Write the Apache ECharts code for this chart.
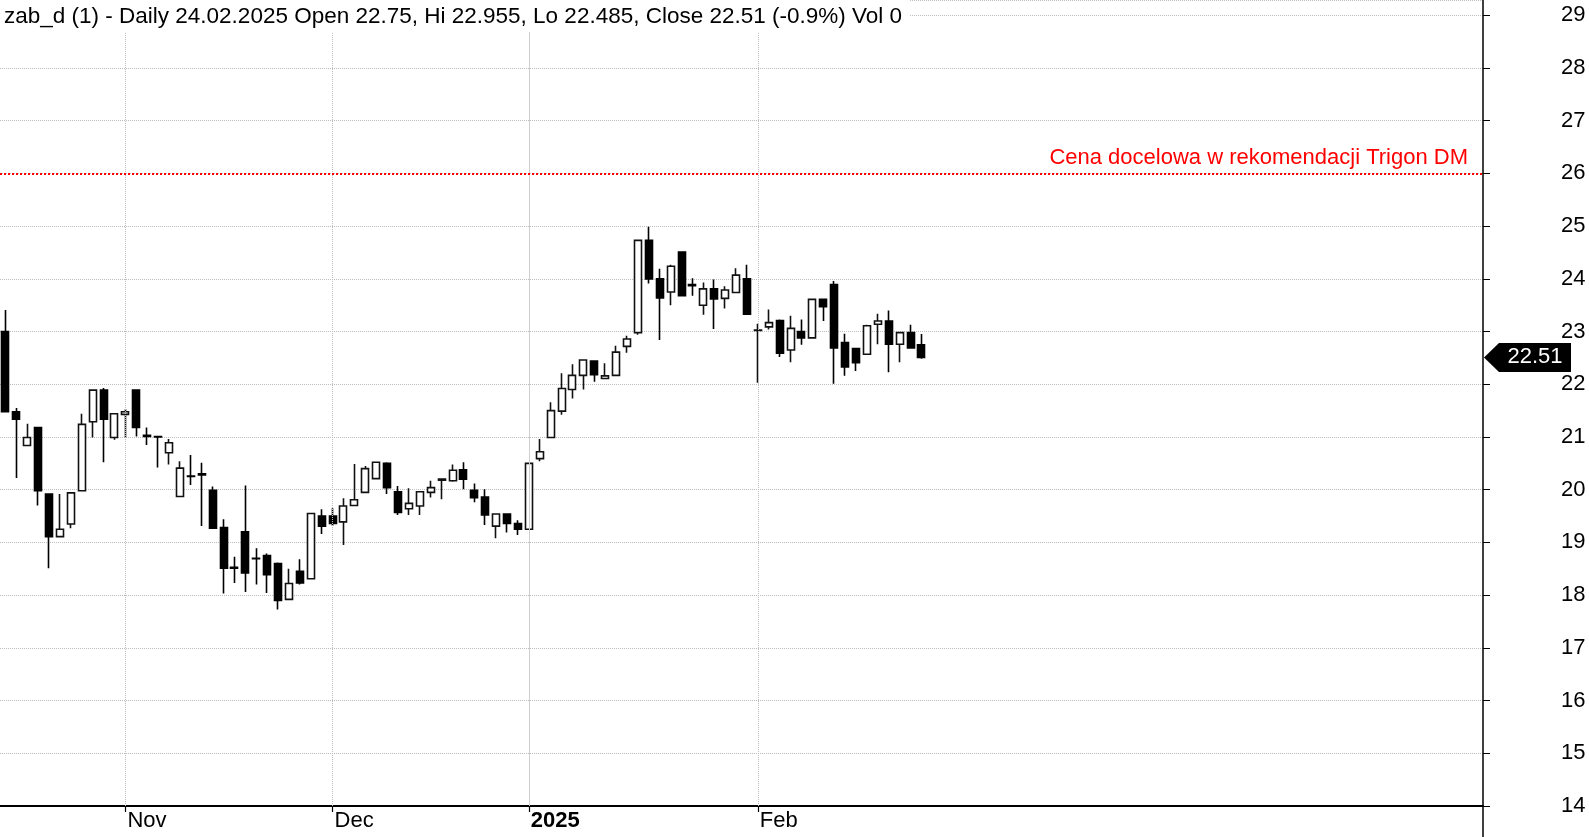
<!DOCTYPE html>
<html>
<head>
<meta charset="utf-8">
<script src="https://cdn.jsdelivr.net/npm/echarts@6/dist/echarts.min.js"></script>
<style>
html,body{margin:0;padding:0;background:#fff;}
#chart{width:1589px;height:837px;}
</style>
</head>
<body>
<div id="chart"></div>
<script>
// ---- Data ----
const dates = [
'2024-10-17','2024-10-18','2024-10-21','2024-10-22','2024-10-23','2024-10-24','2024-10-25','2024-10-28','2024-10-29','2024-10-30','2024-10-31',
'2024-11-04','2024-11-05','2024-11-06','2024-11-07','2024-11-08','2024-11-12','2024-11-13','2024-11-14','2024-11-15','2024-11-18','2024-11-19','2024-11-20','2024-11-21','2024-11-22','2024-11-25','2024-11-26','2024-11-27','2024-11-28','2024-11-29',
'2024-12-02','2024-12-03','2024-12-04','2024-12-05','2024-12-06','2024-12-09','2024-12-10','2024-12-11','2024-12-12','2024-12-13','2024-12-16','2024-12-17','2024-12-18','2024-12-19','2024-12-20','2024-12-23','2024-12-27','2024-12-30',
'2025-01-02','2025-01-03','2025-01-07','2025-01-08','2025-01-09','2025-01-10','2025-01-13','2025-01-14','2025-01-15','2025-01-16','2025-01-17','2025-01-20','2025-01-21','2025-01-22','2025-01-23','2025-01-24','2025-01-27','2025-01-28','2025-01-29','2025-01-30','2025-01-31',
'2025-02-03','2025-02-04','2025-02-05','2025-02-06','2025-02-07','2025-02-10','2025-02-11','2025-02-12','2025-02-13','2025-02-14','2025-02-17','2025-02-18','2025-02-19','2025-02-20','2025-02-21','2025-02-24'
];
const opens = [
23.00,21.48,20.84,21.18,19.92,19.11,19.35,19.98,21.29,21.89,20.99,
21.43,21.89,21.03,21.01,20.70,19.87,20.26,20.30,19.99,19.28,18.53,19.20,18.70,18.75,18.60,17.92,18.45,18.31,19.50,
19.50,19.39,19.70,19.95,20.21,20.50,19.96,19.64,19.69,19.95,20.18,20.17,20.38,19.99,19.86,19.31,19.54,19.36,
19.25,20.59,20.99,21.49,21.90,22.17,22.44,22.11,22.17,22.72,22.98,24.73,24.00,23.75,24.51,23.89,23.50,23.81,23.63,23.74,24.00,
23.02,23.09,23.21,22.65,23.00,22.88,23.61,23.89,22.79,22.68,22.57,23.14,23.20,22.76,22.98,22.75
];
const highs = [
23.41,21.55,21.25,21.18,19.92,19.92,19.94,21.44,21.90,21.93,21.44,
21.53,21.89,21.18,21.02,20.96,20.54,20.66,20.51,20.06,19.44,18.73,20.08,18.89,18.79,18.62,18.50,18.68,19.55,19.63,
19.65,19.84,20.49,20.45,20.53,20.52,20.07,20.03,19.97,20.17,20.20,20.48,20.52,20.12,20.01,19.54,19.54,19.42,
20.50,20.96,21.66,22.21,22.38,22.46,22.45,22.40,22.73,22.92,24.73,24.99,24.19,24.27,24.51,24.01,23.93,23.99,23.86,24.20,24.27,
23.15,23.42,23.23,23.30,23.23,23.61,23.62,23.96,22.96,22.68,23.13,23.34,23.40,22.98,23.13,22.955
];
const lows = [
21.48,20.22,20.84,19.70,18.51,19.11,19.27,19.98,20.99,20.52,20.95,
20.99,21.01,20.85,20.42,20.48,19.87,20.09,19.31,19.27,18.03,18.23,18.06,18.20,18.04,17.73,17.92,18.20,18.31,19.16,
19.31,18.95,19.70,19.95,20.21,19.92,19.52,19.52,19.52,19.85,19.82,20.15,20.01,19.76,19.33,19.08,19.19,19.14,
19.25,20.54,20.99,21.42,21.73,21.90,22.05,22.11,22.17,22.60,22.94,23.91,22.84,23.50,23.68,23.68,23.32,23.05,23.44,23.74,23.33,
22.03,23.04,22.52,22.42,22.75,22.88,23.20,22.01,22.16,22.25,22.57,22.76,22.23,22.42,22.69,22.485
];
const closes = [
21.48,21.34,20.99,19.98,19.11,19.25,19.94,21.24,21.89,21.34,21.44,
21.48,21.18,21.01,21.00,20.89,20.41,20.25,20.28,19.27,18.51,18.51,18.42,18.69,18.39,17.90,18.22,18.23,19.55,19.31,
19.36,19.69,19.81,20.40,20.52,20.04,19.57,19.74,19.96,20.04,20.20,20.37,20.20,19.85,19.52,19.54,19.36,19.25,
20.50,20.72,21.50,21.92,22.17,22.46,22.18,22.16,22.61,22.86,24.73,24.00,23.64,24.24,23.68,23.87,23.81,23.62,23.79,24.07,23.33,
23.03,23.17,22.59,23.06,22.88,23.61,23.47,22.69,22.33,22.41,23.11,23.20,22.76,22.98,22.69,22.51
];
const yTicks = [14,15,16,17,18,19,20,21,22,23,24,25,26,27,28,29];
const targetPrice = 26;
const targetLabel = 'Cena docelowa w rekomendacji Trigon DM';
const titleText = 'zab_d (1) - Daily 24.02.2025 Open 22.75, Hi 22.955, Lo 22.485, Close 22.51 (-0.9%) Vol 0';
const monthNames = ['Jan','Feb','Mar','Apr','May','Jun','Jul','Aug','Sep','Oct','Nov','Dec'];
const futureSlots = 51; // empty space right of last candle

// ---- Build ----
const FONT = 'Liberation Sans, Arial, sans-serif';
const GRID = {left: 0, right: 106, top: 0, bottom: 31};
const Y_MIN = 14, Y_MAX = 29.29;
const cats = dates.concat(Array.from({length: futureSlots}, (_, i) => 'f' + i));
const monthStart = {};
for (let i = 1; i < dates.length; i++) {
  const m0 = dates[i-1].slice(5,7), m1 = dates[i].slice(5,7);
  if (m0 !== m1) {
    const mi = parseInt(m1, 10) - 1;
    monthStart[i] = mi === 0 ? '{b|' + dates[i].slice(0,4) + '}' : monthNames[mi];
  }
}
const ohlc = dates.map((d, i) => [opens[i], closes[i], lows[i], highs[i]]);
const vLines = Object.keys(monthStart).map(k => {
  const isYear = monthStart[k].indexOf('{b|') === 0;
  return {xAxis: dates[+k], lineStyle: {color: isYear ? '#cfcfcf' : '#bdbdbd', type: isYear ? 'solid' : 'dotted', width: 1}, label: {show: false}};
});

const chart = echarts.init(document.getElementById('chart'), null, {renderer: 'canvas'});
chart.setOption({
  animation: false,
  backgroundColor: '#fff',
  title: {
    text: titleText, left: 0, top: 0,
    padding: [5, 8, 4, 4], backgroundColor: '#fff',
    textStyle: {fontFamily: FONT, fontSize: 22.5, fontWeight: 'normal', color: '#000'}
  },
  grid: GRID,
  xAxis: {
    type: 'category', data: cats, boundaryGap: true,
    axisLine: {show: true, onZero: false, lineStyle: {color: '#000', width: 1.8}},
    axisTick: {show: true, alignWithLabel: true, length: 6, interval: (i) => monthStart[i] !== undefined, lineStyle: {color: '#000', width: 1.2}},
    axisLabel: {
      show: true, interval: (i) => monthStart[i] !== undefined,
      formatter: (v, i) => monthStart[i] || '',
      align: 'left', margin: 4, padding: [0,0,0,2],
      fontFamily: FONT, fontSize: 22, color: '#000',
      rich: {b: {fontWeight: 'bold', fontFamily: FONT, fontSize: 22, color: '#000'}}
    },
    splitLine: {show: false}
  },
  yAxis: {
    type: 'value', position: 'right', min: Y_MIN, max: Y_MAX, interval: 1,
    axisLine: {show: true, lineStyle: {color: '#000', width: 1.5}},
    axisTick: {show: true, inside: false, length: 7, lineStyle: {color: '#000'}},
    axisLabel: {
      margin: 78, fontFamily: FONT, fontSize: 22, color: '#000', showMaxLabel: false,
      formatter: (v) => yTicks.indexOf(v) >= 0 ? String(v) : ''
    },
    splitLine: {show: true, lineStyle: {color: '#bdbdbd', type: 'dotted', width: 1}}
  },
  series: [{
    type: 'candlestick',
    data: ohlc,
    barWidth: 7.5,
    itemStyle: {color: '#fff', color0: '#000', borderColor: '#111', borderColor0: '#000', borderWidth: 1.6},
    markLine: {
      silent: true, symbol: ['none','none'], animation: false,
      label: {show: false},
      data: vLines.concat([{
        yAxis: targetPrice,
        lineStyle: {color: '#ff0000', type: 'dotted', width: 2},
        label: {show: true, position: 'insideEndTop', distance: [15, 4], formatter: targetLabel, color: '#ff0000', fontFamily: FONT, fontSize: 22}
      }])
    }
  }]
});

// price tag for last close
const lastClose = closes[closes.length - 1];
const ty = chart.convertToPixel({yAxisIndex: 0}, lastClose);
const tx = 1589 - GRID.right + 1;
const h = 14.5;
chart.setOption({
  graphic: [
    {type: 'line', shape: {x1: tx - 1, y1: chart.convertToPixel({yAxisIndex: 0}, Y_MIN), x2: tx - 1, y2: 837}, style: {stroke: '#000', lineWidth: 1.5}, z: 50},
    {type: 'polygon', shape: {points: [[tx, ty], [tx + 15, ty - h], [tx + 87, ty - h], [tx + 87, ty + h], [tx + 15, ty + h]]}, style: {fill: '#000'}, z: 100},
    {type: 'text', x: tx + 51, y: ty, style: {text: lastClose.toFixed(2), fill: '#fff', font: '22px ' + FONT, align: 'center', verticalAlign: 'middle'}, z: 101}
  ]
});
</script>
</body>
</html>
